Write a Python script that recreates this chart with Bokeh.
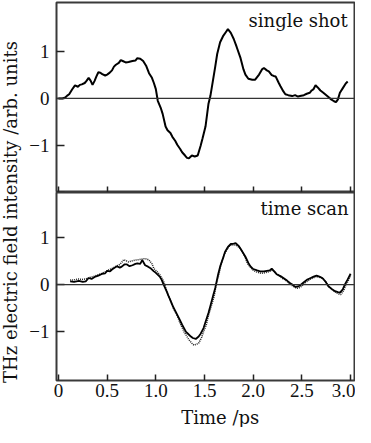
import numpy as np
from bokeh.plotting import figure
from bokeh.models import Range1d, FixedTicker, Span, Label
from bokeh.layouts import row, column
from bokeh.embed import file_html
from bokeh.resources import INLINE

# ---------------- data ----------------
time_ticks = [0, 0.5, 1.0, 1.5, 2.0, 2.5, 3.0]
time_tick_labels = ["0", "0.5", "1.0", "1.5", "2.0", "2.5", "3.0"]
top_y_ticks = [-1, 0, 1]
top_y_tick_labels = ["\u22121", "0", "1"]
top_y_extra_ticks = [-2]
bottom_y_ticks = [-1, 0, 1]
bottom_y_tick_labels = ["\u22121", "0", "1"]

single_t = [0.00, 0.04, 0.07, 0.09, 0.11, 0.14, 0.17, 0.20, 0.22, 0.24, 0.27, 0.29, 0.31, 0.33,
            0.35, 0.37, 0.39, 0.41, 0.43, 0.45, 0.48, 0.50, 0.52, 0.55, 0.57, 0.59, 0.62, 0.64,
            0.66, 0.69, 0.72, 0.76, 0.79, 0.81, 0.84, 0.87, 0.90, 0.93, 0.96, 0.98, 1.00, 1.02,
            1.05, 1.07, 1.10, 1.12, 1.15, 1.17, 1.20, 1.22, 1.25, 1.27, 1.30, 1.32, 1.34, 1.37,
            1.40, 1.43, 1.46, 1.48, 1.51, 1.54, 1.56, 1.58, 1.61, 1.63, 1.66, 1.69, 1.72, 1.74,
            1.77, 1.80, 1.83, 1.87, 1.90, 1.92, 1.95, 1.99, 2.02, 2.06, 2.09, 2.11, 2.14, 2.16,
            2.19, 2.21, 2.23, 2.26, 2.28, 2.31, 2.33, 2.36, 2.40, 2.43, 2.46, 2.48, 2.52, 2.55,
            2.58, 2.60, 2.62, 2.64, 2.66, 2.69, 2.72, 2.76, 2.80, 2.83, 2.85, 2.87, 2.89, 2.92,
            2.95, 2.97]
single_v = [0.00, 0.00, 0.02, 0.06, 0.09, 0.19, 0.28, 0.25, 0.29, 0.30, 0.33, 0.38, 0.44, 0.38,
            0.29, 0.37, 0.47, 0.56, 0.55, 0.52, 0.49, 0.51, 0.54, 0.60, 0.68, 0.72, 0.76, 0.82,
            0.80, 0.77, 0.78, 0.80, 0.81, 0.86, 0.85, 0.80, 0.70, 0.54, 0.44, 0.33, 0.20, -0.05,
            -0.20, -0.33, -0.60, -0.68, -0.74, -0.82, -0.91, -0.99, -1.08, -1.15, -1.22, -1.27, -1.28, -1.22,
            -1.24, -1.22, -1.01, -0.85, -0.60, -0.12, 0.05, 0.30, 0.68, 0.95, 1.20, 1.33, 1.42, 1.48,
            1.40, 1.27, 1.10, 0.86, 0.62, 0.51, 0.42, 0.40, 0.40, 0.51, 0.62, 0.65, 0.60, 0.58,
            0.50, 0.48, 0.47, 0.34, 0.26, 0.15, 0.09, 0.07, 0.05, 0.07, 0.04, 0.05, 0.07, 0.10,
            0.12, 0.17, 0.20, 0.28, 0.24, 0.17, 0.12, 0.05, -0.02, -0.06, -0.08, -0.02, 0.12, 0.22,
            0.32, 0.36]

scan_solid_t = [0.12, 0.16, 0.21, 0.25, 0.28, 0.31, 0.34, 0.38, 0.41, 0.45, 0.48, 0.50, 0.53, 0.55,
                0.58, 0.60, 0.63, 0.65, 0.68, 0.70, 0.73, 0.76, 0.79, 0.81, 0.84, 0.86, 0.89, 0.92,
                0.95, 0.98, 1.00, 1.04, 1.06, 1.08, 1.11, 1.13, 1.16, 1.18, 1.21, 1.24, 1.27, 1.31,
                1.33, 1.36, 1.38, 1.41, 1.44, 1.46, 1.49, 1.51, 1.54, 1.56, 1.59, 1.61, 1.64, 1.66,
                1.69, 1.71, 1.74, 1.77, 1.80, 1.82, 1.85, 1.87, 1.90, 1.92, 1.95, 1.97, 2.00, 2.04,
                2.07, 2.11, 2.14, 2.17, 2.19, 2.22, 2.24, 2.28, 2.31, 2.35, 2.38, 2.41, 2.43, 2.46,
                2.48, 2.52, 2.55, 2.59, 2.62, 2.65, 2.68, 2.71, 2.74, 2.77, 2.81, 2.84, 2.87, 2.89,
                2.92, 2.94, 2.97, 3.00]
scan_solid_v = [0.07, 0.06, 0.08, 0.06, 0.07, 0.14, 0.12, 0.17, 0.19, 0.23, 0.24, 0.29, 0.28, 0.32,
                0.36, 0.39, 0.36, 0.38, 0.43, 0.43, 0.39, 0.41, 0.44, 0.45, 0.44, 0.52, 0.41, 0.38,
                0.34, 0.28, 0.25, 0.17, 0.10, 0.00, -0.14, -0.24, -0.38, -0.48, -0.60, -0.72, -0.85, -1.00,
                -1.04, -1.10, -1.13, -1.15, -1.10, -1.04, -0.92, -0.79, -0.60, -0.45, -0.22, -0.07, 0.22, 0.38,
                0.56, 0.69, 0.80, 0.86, 0.87, 0.88, 0.82, 0.76, 0.66, 0.59, 0.46, 0.39, 0.33, 0.30,
                0.28, 0.28, 0.29, 0.30, 0.34, 0.27, 0.22, 0.18, 0.14, 0.08, 0.03, -0.01, -0.05, -0.04,
                -0.02, 0.05, 0.10, 0.14, 0.17, 0.19, 0.17, 0.14, 0.07, -0.03, -0.10, -0.14, -0.16, -0.17,
                -0.10, 0.00, 0.11, 0.23]

scan_dotted_t = [0.12, 0.16, 0.20, 0.24, 0.28, 0.32, 0.36, 0.41, 0.45, 0.49, 0.52, 0.56, 0.60, 0.62,
                 0.65, 0.67, 0.70, 0.72, 0.75, 0.79, 0.83, 0.88, 0.91, 0.93, 0.96, 0.98, 1.01, 1.04,
                 1.06, 1.08, 1.11, 1.15, 1.18, 1.22, 1.25, 1.29, 1.32, 1.34, 1.37, 1.39, 1.42, 1.44,
                 1.47, 1.49, 1.52, 1.54, 1.57, 1.60, 1.62, 1.65, 1.67, 1.70, 1.73, 1.76, 1.79, 1.82,
                 1.86, 1.89, 1.92, 1.94, 1.97, 1.99, 2.03, 2.08, 2.12, 2.16, 2.20, 2.23, 2.26, 2.30,
                 2.33, 2.37, 2.40, 2.43, 2.45, 2.48, 2.50, 2.53, 2.56, 2.60, 2.65, 2.69, 2.72, 2.75,
                 2.78, 2.82, 2.85, 2.88, 2.90, 2.93, 2.95, 2.98, 3.00]
scan_dotted_v = [0.10, 0.10, 0.12, 0.11, 0.12, 0.15, 0.17, 0.21, 0.24, 0.28, 0.32, 0.35, 0.40, 0.41,
                 0.47, 0.53, 0.50, 0.48, 0.50, 0.52, 0.53, 0.55, 0.54, 0.52, 0.44, 0.34, 0.28, 0.21,
                 0.14, 0.07, -0.12, -0.34, -0.50, -0.66, -0.82, -1.00, -1.10, -1.17, -1.24, -1.28, -1.26, -1.24,
                 -1.12, -1.00, -0.84, -0.66, -0.45, -0.24, 0.00, 0.24, 0.44, 0.62, 0.74, 0.83, 0.84, 0.84,
                 0.78, 0.69, 0.56, 0.45, 0.37, 0.32, 0.27, 0.24, 0.25, 0.27, 0.31, 0.25, 0.20, 0.13,
                 0.10, 0.03, -0.02, -0.06, -0.08, -0.06, -0.03, 0.03, 0.08, 0.13, 0.17, 0.15, 0.12, 0.04,
                 -0.05, -0.12, -0.17, -0.20, -0.21, -0.12, -0.02, 0.10, 0.20]

# ---------------- styling helpers ----------------
SERIF = "Liberation Serif"
WORD_FONT = "DejaVu Serif"
X_RANGE = (-0.02, 3.04)
TICK_COLOR = "#222222"
MAIN_W = 333


def style(p):
    p.grid.grid_line_color = None
    p.outline_line_color = "#3a3a3a"
    p.outline_line_width = 2
    p.background_fill_color = "white"
    p.border_fill_color = "white"
    for ax in p.axis:
        ax.axis_line_color = None
        ax.major_tick_out = 0
        ax.minor_tick_out = 0
        ax.minor_tick_line_color = None
        ax.major_tick_line_color = TICK_COLOR
        ax.major_tick_line_width = 1.5
        ax.major_label_text_font = SERIF
        ax.major_label_text_font_size = "19px"
        ax.major_label_text_color = "#111111"


# ---------------- top panel: single shot ----------------
top = figure(width=MAIN_W, height=192,
             x_range=Range1d(*X_RANGE), y_range=Range1d(-2.01, 2.05),
             min_border_left=34, min_border_right=1, min_border_top=2, min_border_bottom=0,
             toolbar_location=None, output_backend="svg")
style(top)
# inward tick marks only (no labels) along the shared time axis
top.xaxis.ticker = FixedTicker(ticks=[], minor_ticks=time_ticks)
top.xaxis.minor_tick_line_color = TICK_COLOR
top.xaxis.minor_tick_line_width = 1.5
top.xaxis.minor_tick_in = 6
top.xaxis.major_label_standoff = 0
top.yaxis.ticker = FixedTicker(ticks=top_y_ticks, minor_ticks=top_y_extra_ticks)
top.yaxis.major_label_overrides = dict(zip(top_y_ticks, top_y_tick_labels))
top.yaxis.major_tick_in = 8
top.yaxis.minor_tick_line_color = TICK_COLOR
top.yaxis.minor_tick_line_width = 1.5
top.yaxis.minor_tick_in = 8
top.yaxis.major_label_standoff = 7
top.add_layout(Span(location=0, dimension="width", line_color="#333333", line_width=1.2))
top.line(single_t, single_v, line_color="black", line_width=2)
top.add_layout(Label(x=2.97, y=1.67, text="single shot", text_align="right",
                     text_baseline="middle", text_font=WORD_FONT,
                     text_font_size="18px", text_color="#111111"))

# ---------------- bottom panel: time scan ----------------
bot = figure(width=MAIN_W, height=214,
             x_range=Range1d(*X_RANGE), y_range=Range1d(-2.03, 1.95),
             min_border_left=34, min_border_right=1, min_border_top=0, min_border_bottom=26,
             toolbar_location=None, output_backend="svg")
style(bot)
bot.xaxis.ticker = FixedTicker(ticks=time_ticks)
bot.xaxis.major_label_overrides = dict(zip(time_ticks, time_tick_labels))
bot.xaxis.major_tick_in = 6
bot.xaxis.major_label_standoff = 3
bot.yaxis.ticker = FixedTicker(ticks=bottom_y_ticks)
bot.yaxis.major_label_overrides = dict(zip(bottom_y_ticks, bottom_y_tick_labels))
bot.yaxis.major_tick_in = 8
bot.yaxis.major_label_standoff = 7
bot.add_layout(Span(location=0, dimension="width", line_color="#333333", line_width=1.2))
bot.line(scan_dotted_t, scan_dotted_v, line_color="#222222", line_width=1.5, line_dash="1 1")
bot.line(scan_solid_t, scan_solid_v, line_color="black", line_width=1.8)
bot.add_layout(Label(x=2.98, y=1.61, text="time scan", text_align="right",
                     text_baseline="middle", text_font=WORD_FONT,
                     text_font_size="18px", text_color="#111111"))

# ---------------- x-axis title strip ----------------
xlab = figure(width=MAIN_W, height=21, x_range=Range1d(0, MAIN_W), y_range=Range1d(0, 21),
              x_axis_location=None, y_axis_location=None,
              min_border=0, toolbar_location=None, output_backend="svg")
xlab.grid.grid_line_color = None
xlab.outline_line_color = None
xlab.add_layout(Label(x=183, y=10.5, text="Time /ps", text_align="center",
                      text_baseline="middle", text_font=WORD_FONT,
                      text_font_size="18px", text_color="#111111"))

# ---------------- y-axis title strip ----------------
lab = figure(width=22, height=427, x_range=Range1d(0, 22), y_range=Range1d(0, 427),
             x_axis_location=None, y_axis_location=None,
             min_border=0, toolbar_location=None, output_backend="svg")
lab.grid.grid_line_color = None
lab.outline_line_color = None
lab.add_layout(Label(x=10, y=215.5, text="THz electric field intensity /arb. units",
                     angle=np.pi / 2, text_align="center", text_baseline="middle",
                     text_font=WORD_FONT, text_font_size="18px", text_color="#111111"))

layout = row(lab, column(top, bot, xlab))

open("out.html", "w").write(file_html(layout, INLINE))
